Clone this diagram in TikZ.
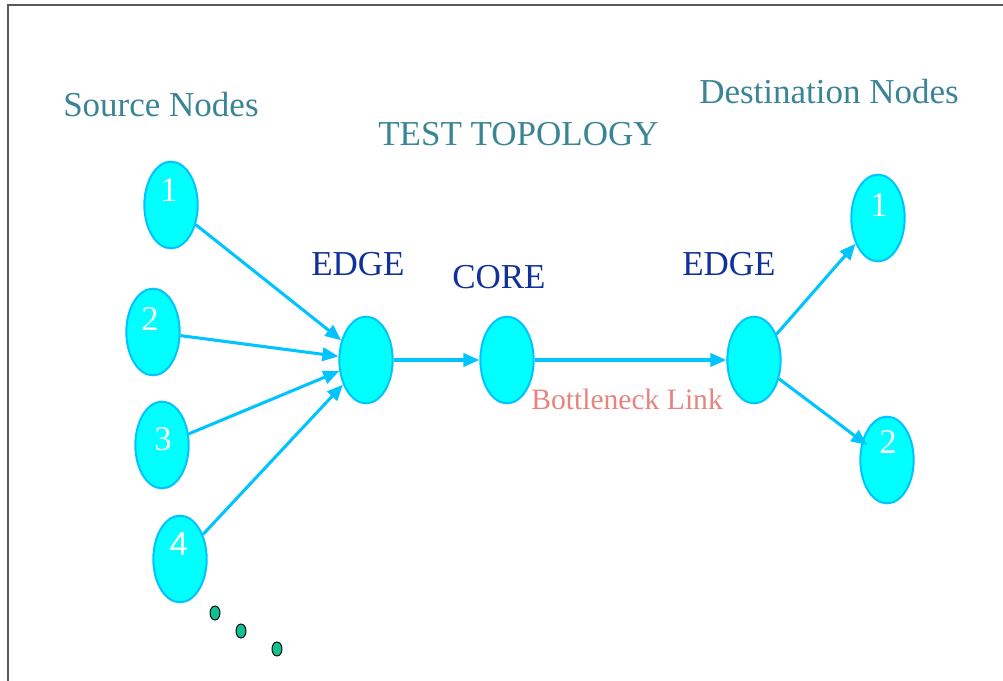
\documentclass[tikz,border=0pt]{standalone}
\usepackage{fontspec}
\setmainfont{Liberation Serif}
\newfontfamily\numsans{Liberation Sans}
\usetikzlibrary{shapes.geometric,arrows.meta}
\definecolor{teal1}{HTML}{3A8595}
\definecolor{navy1}{HTML}{10309A}
\definecolor{salmon1}{HTML}{E8847F}
\definecolor{linkblue}{HTML}{00C4FF}
\definecolor{nodecyan}{HTML}{00FFFF}
\definecolor{dotgreen}{HTML}{10C090}
\tikzset{
  netnode/.style={ellipse, draw=linkblue, line width=1.5pt, fill=nodecyan, minimum width=40pt, minimum height=65pt, inner sep=0pt},
  numlabel/.style={anchor=base, text=white, inner sep=0pt, font=\fontsize{26pt}{30pt}\selectfont},
  title/.style={anchor=base west, text=teal1, font=\fontsize{26.25pt}{30pt}\selectfont, inner sep=0pt},
  tier/.style={anchor=base west, text=navy1, font=\fontsize{26.25pt}{30pt}\selectfont, inner sep=0pt},
  link/.style={draw=linkblue, line width=2.3pt, -{Triangle[length=12pt,width=10pt]}},
  dotmark/.style={ellipse, draw=black, line width=0.7pt, fill=dotgreen, minimum width=7.5pt, minimum height=10.5pt, inner sep=0pt},
}
\begin{document}
\begin{tikzpicture}[x=0.75pt,y=-0.75pt]
\useasboundingbox (0,0) rectangle (1003,681);
\draw[line width=1.5pt, draw=black!65] (7.5,681) -- (7.5,5) -- (1003,5);
% titles
\node[title] (srcT) at (63,117) {Source Nodes};
\node[title] (topT) at (378,146) {TEST TOPOLOGY};
\node[title] (dstT) at (699,104) {Destination Nodes};
\node[tier] (edgeLT) at (311,275) {EDGE};
\node[tier] (coreT) at (452,288) {CORE};
\node[tier] (edgeRT) at (682,275) {EDGE};
\node[anchor=base west, text=salmon1, font=\fontsize{22.2pt}{26pt}\selectfont, inner sep=0pt] (bneck) at (531,409) {Bottleneck Link};
% nodes
\node[netnode] (s1) at (171,205) {};
\node[netnode] (s2) at (153,332) {};
\node[netnode] (s3) at (162,445) {};
\node[netnode] (s4) at (180,559) {};
\node[netnode] (el) at (366,360) {};
\node[netnode] (co) at (507,360) {};
\node[netnode] (er) at (754,360) {};
\node[netnode] (d1) at (878,218) {};
\node[netnode] (d2) at (887,460) {};
% numbers
\node[numlabel] (n1) at (169,202) {1};
\node[numlabel] (n2) at (150,330) {2};
\node[numlabel] (n3) at (163,450) {3};
\node[numlabel, font=\numsans\fontsize{25pt}{30pt}\selectfont] (n4) at (179,555) {4};
\node[numlabel] (m1) at (879,217) {1};
\node[numlabel] (m2) at (888,453) {2};
% links
\draw[link] (s1) -- (el);
\draw[link] (s2) -- (el);
\draw[link] (s3) -- (el);
\draw[link] (s4) -- (el);
\draw[link] (el) -- (co);
\draw[link] (co) -- (er);
\draw[link] (er) -- (d1);
\draw[link, shorten >=-5pt] (er) -- (d2);
% dots
\node[dotmark] (dot1) at (215,613) {};
\node[dotmark] (dot2) at (241,631) {};
\node[dotmark] (dot3) at (277,649) {};
\end{tikzpicture}
\end{document}
